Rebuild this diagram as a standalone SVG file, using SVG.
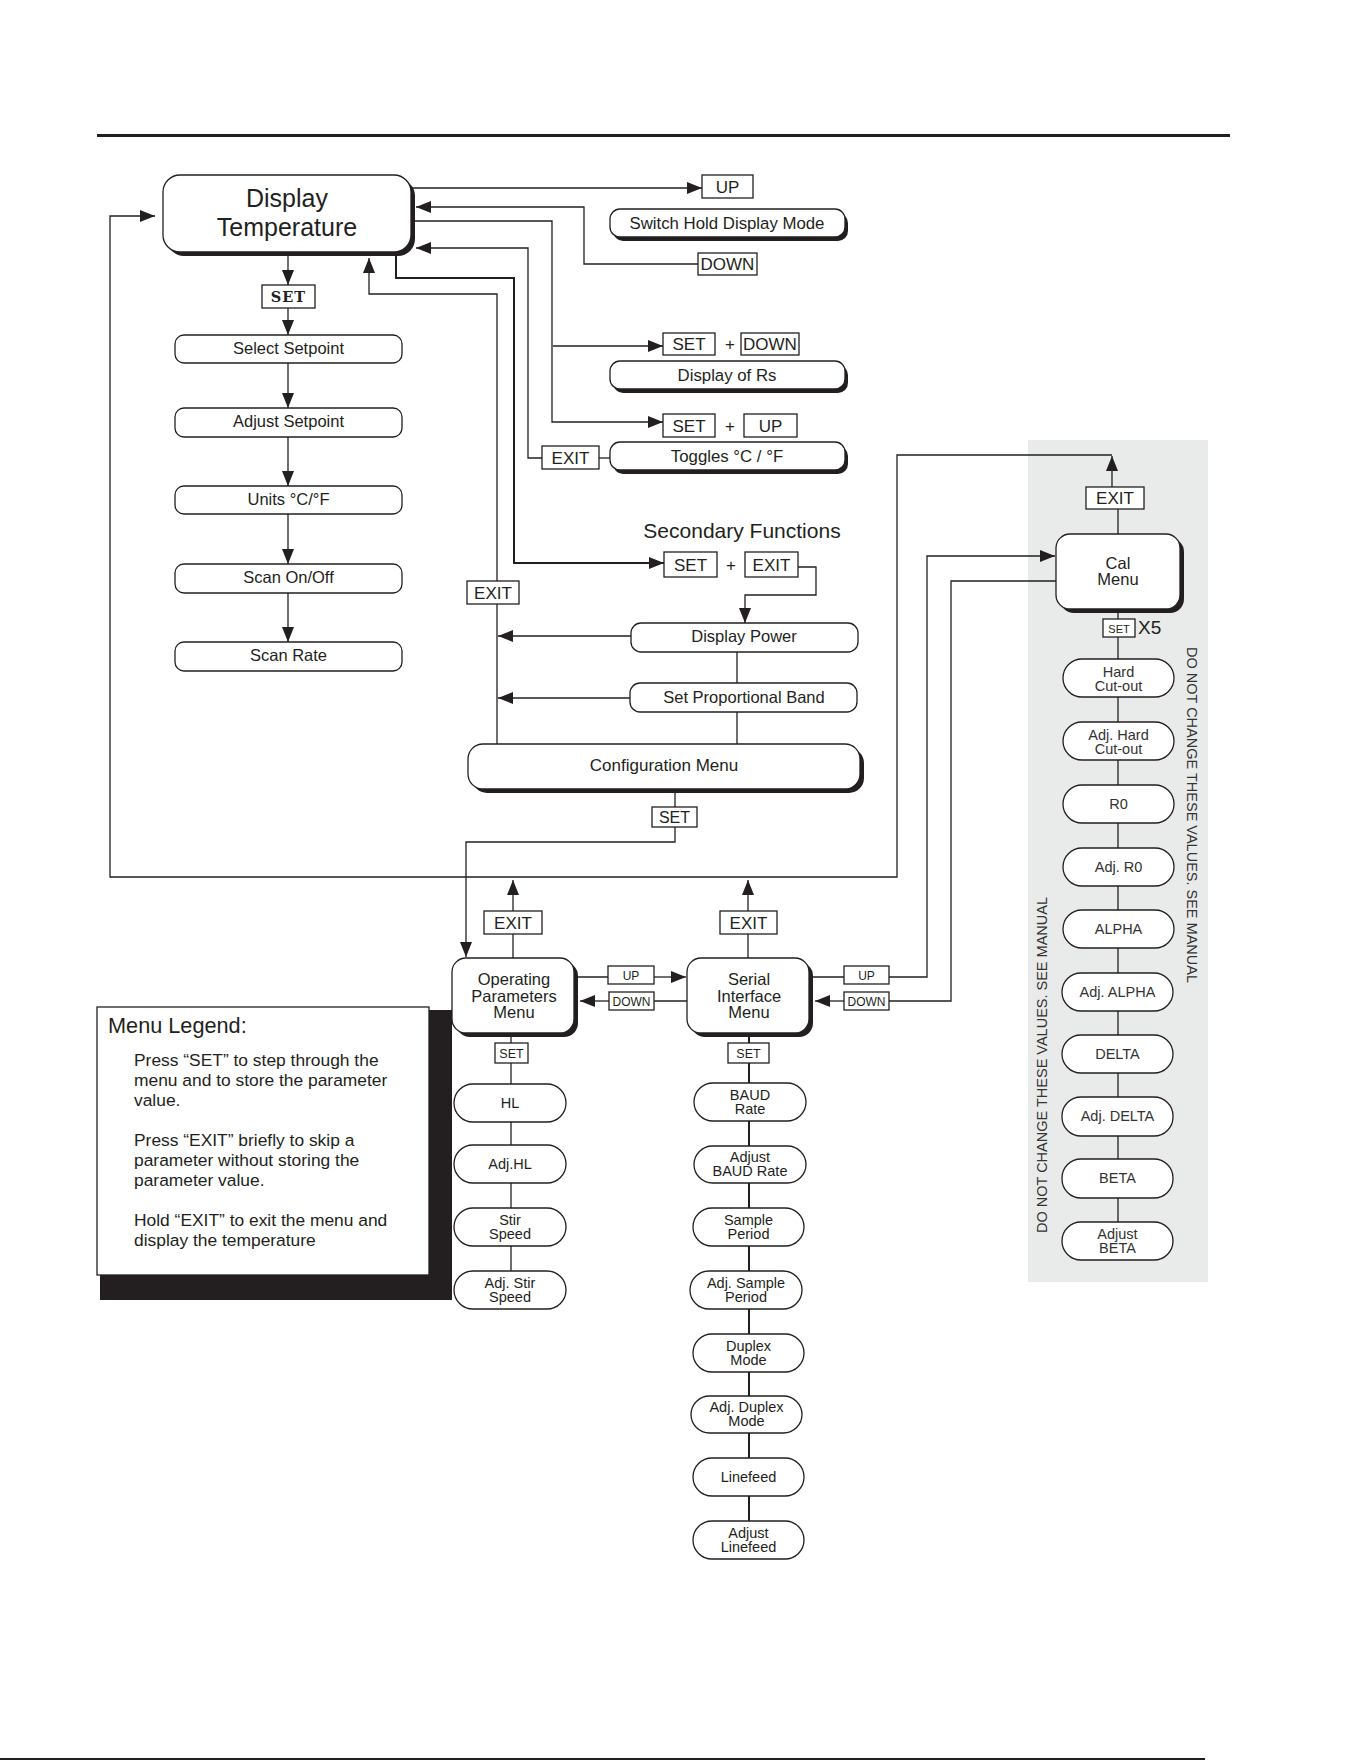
<svg xmlns="http://www.w3.org/2000/svg" width="1361" height="1761" viewBox="0 0 1361 1761">
<defs>
<style>
.ln{fill:none;stroke:#231f20;stroke-width:1.3}
.lt{fill:none;stroke:#231f20;stroke-width:2}
.bx{fill:#fff;stroke:#231f20;stroke-width:1.3}
.sh{fill:#231f20}
.t{font-family:"Liberation Sans",Arial,sans-serif;fill:#231f20;text-anchor:middle}
.s{font-size:16.5px}
.k{font-size:17px}
.p{font-size:14.5px}
.m{font-size:12px}
.g{fill:#333}
</style>
<marker id="ar" viewBox="0 0 15 12" refX="15" refY="6" markerWidth="15" markerHeight="12" markerUnits="userSpaceOnUse" orient="auto"><path d="M0,0L15,6L0,12z" fill="#231f20"/></marker>
</defs>
<rect width="1361" height="1761" fill="#fff"/>
<rect x="97" y="134" width="1133" height="3" fill="#231f20"/>
<rect x="0" y="1758" width="1205" height="2" fill="#231f20"/>
<rect id="cal-panel" x="1028" y="440" width="180" height="842" fill="#e9eaea"/>

<g id="connectors">
<path class="ln" d="M411,188H702" marker-end="url(#ar)"/>
<path class="ln" d="M698,264H584V207H416" marker-end="url(#ar)"/>
<path class="ln" d="M411,221H552V422H663" marker-end="url(#ar)"/>
<path class="ln" d="M553,346H663" marker-end="url(#ar)"/>
<path class="ln" d="M599,458H610"/>
<path class="ln" d="M542,458H528V248H416" marker-end="url(#ar)"/>
<path class="lt" d="M396,252V278H514V563H664" marker-end="url(#ar)"/>
<path class="ln" d="M497,744V604"/>
<path class="ln" d="M497,581V294H369V258" marker-end="url(#ar)"/>
<path class="ln" d="M798,567H816V595H745V623" marker-end="url(#ar)"/>
<path class="ln" d="M631,636H498" marker-end="url(#ar)"/>
<path class="ln" d="M630,698H498" marker-end="url(#ar)"/>
<path class="ln" d="M737,652V683M737,712V744"/>
<path class="ln" d="M288,252V285" marker-end="url(#ar)"/>
<path class="ln" d="M288,308V335" marker-end="url(#ar)"/>
<path class="ln" d="M288,363V408" marker-end="url(#ar)"/>
<path class="ln" d="M288,437V486" marker-end="url(#ar)"/>
<path class="ln" d="M288,514V564" marker-end="url(#ar)"/>
<path class="ln" d="M288,593V642" marker-end="url(#ar)"/>
<path class="ln" d="M675,789V807"/>
<path class="ln" d="M675,827V842H466V957" marker-end="url(#ar)"/>
<path class="ln" d="M1112,487V456" marker-end="url(#ar)"/>
<path class="ln" d="M1112,455H897V877H110V216H155" marker-end="url(#ar)"/>
<path class="ln" d="M513,958V934"/>
<path class="ln" d="M513,911V880" marker-end="url(#ar)"/>
<path class="ln" d="M748,958V934"/>
<path class="ln" d="M748,911V880" marker-end="url(#ar)"/>
<path class="ln" d="M574,977H608"/>
<path class="ln" d="M654,977H686" marker-end="url(#ar)"/>
<path class="ln" d="M687,1001H654"/>
<path class="ln" d="M609,1001H580" marker-end="url(#ar)"/>
<path class="ln" d="M809,977H844"/>
<path class="ln" d="M889,977H927V556H1055" marker-end="url(#ar)"/>
<path class="ln" d="M1056,581H951V1001H889"/>
<path class="ln" d="M844,1001H815" marker-end="url(#ar)"/>
<path class="ln" d="M1118,534V509"/>
<path class="ln" d="M511,1037V1271"/>
<path class="lt" d="M749,1037V1521"/>
<path class="ln" d="M1118,609V1222"/>
</g>

<g id="display-temperature">
<rect class="sh" x="167" y="179" width="248" height="77" rx="17"/>
<rect class="bx" x="163" y="175" width="248" height="77" rx="17"/>
<text class="t" x="287" y="207" font-size="25">Display</text>
<text class="t" x="287" y="236" font-size="25">Temperature</text>
</g>
<g id="set-main">
<rect class="bx" x="262" y="285" width="53" height="23"/>
<text x="288.5" y="302" font-family="'DejaVu Serif','Liberation Serif',serif" font-weight="bold" font-size="14.5" fill="#231f20" text-anchor="middle" letter-spacing="1">SET</text>
</g>
<g id="select-setpoint"><rect class="bx" x="175" y="335" width="227" height="28" rx="9"/><text class="t s" x="288.5" y="354">Select Setpoint</text></g>
<g id="adjust-setpoint"><rect class="bx" x="175" y="408" width="227" height="29" rx="9"/><text class="t s" x="288.5" y="427">Adjust Setpoint</text></g>
<g id="units"><rect class="bx" x="175" y="486" width="227" height="28" rx="9"/><text class="t s" x="288.5" y="505">Units °C/°F</text></g>
<g id="scan-onoff"><rect class="bx" x="175" y="564" width="227" height="29" rx="9"/><text class="t s" x="288.5" y="583">Scan On/Off</text></g>
<g id="scan-rate"><rect class="bx" x="175" y="642" width="227" height="29" rx="9"/><text class="t s" x="288.5" y="661">Scan Rate</text></g>

<g id="up-key"><rect class="bx" x="702" y="175" width="51" height="23"/><text class="t k" x="727.5" y="193">UP</text></g>
<g id="switch-hold"><rect class="sh" x="613" y="213" width="235" height="28" rx="10"/><rect class="bx" x="610" y="209" width="235" height="28" rx="10"/><text class="t" x="727" y="229" font-size="16.8">Switch Hold Display Mode</text></g>
<g id="down-key"><rect class="bx" x="698" y="253" width="59" height="22"/><text class="t k" x="727.5" y="270">DOWN</text></g>

<g id="set-down">
<rect class="bx" x="663" y="333" width="52" height="22"/><text class="t k" x="689" y="350">SET</text>
<text class="t k" x="730" y="350">+</text>
<rect class="bx" x="741" y="333" width="58" height="22"/><text class="t k" x="770" y="350">DOWN</text>
</g>
<g id="display-rs"><rect class="sh" x="613" y="365" width="235" height="28" rx="10"/><rect class="bx" x="610" y="361" width="235" height="28" rx="10"/><text class="t" x="727" y="381" font-size="16.8">Display of Rs</text></g>
<g id="set-up">
<rect class="bx" x="663" y="414" width="52" height="23"/><text class="t k" x="689" y="432">SET</text>
<text class="t k" x="730" y="432">+</text>
<rect class="bx" x="744" y="414" width="53" height="23"/><text class="t k" x="770.5" y="432">UP</text>
</g>
<g id="exit-toggle"><rect class="bx" x="542" y="446" width="57" height="23"/><text class="t k" x="570.5" y="464">EXIT</text></g>
<g id="toggles"><rect class="sh" x="613" y="446" width="235" height="28" rx="10"/><rect class="bx" x="610" y="442" width="235" height="28" rx="10"/><text class="t" x="727" y="462" font-size="16.8">Toggles °C / °F</text></g>

<g id="secondary-functions">
<text class="t" x="742" y="538" font-size="21">Secondary Functions</text>
<rect class="bx" x="664" y="552" width="53" height="25"/><text class="t k" x="690.5" y="571">SET</text>
<text class="t k" x="731" y="571">+</text>
<rect class="bx" x="745" y="552" width="53" height="25"/><text class="t k" x="771.5" y="571">EXIT</text>
</g>
<g id="exit-config"><rect class="bx" x="467" y="581" width="52" height="23"/><text class="t k" x="493" y="599">EXIT</text></g>
<g id="display-power"><rect class="bx" x="631" y="623" width="227" height="29" rx="10"/><text class="t s" x="744" y="642">Display Power</text></g>
<g id="set-prop-band"><rect class="bx" x="630" y="683" width="227" height="29" rx="10"/><text class="t s" x="744" y="703">Set Proportional Band</text></g>
<g id="config-menu"><rect class="sh" x="472" y="748" width="392" height="45" rx="15"/><rect class="bx" x="468" y="744" width="392" height="45" rx="15"/><text class="t k" x="664" y="771">Configuration Menu</text></g>
<g id="set-config"><rect class="bx" x="652" y="807" width="45" height="20"/><text class="t" x="674.5" y="823" font-size="16">SET</text></g>

<g id="exit-op"><rect class="bx" x="484" y="911" width="58" height="23"/><text class="t k" x="513" y="929">EXIT</text></g>
<g id="exit-si"><rect class="bx" x="720" y="911" width="57" height="23"/><text class="t k" x="748.5" y="929">EXIT</text></g>

<g id="legend">
<rect class="sh" x="100" y="1010" width="352" height="290"/>
<rect x="97" y="1007" width="332" height="268" fill="#fff" stroke="#231f20" stroke-width="1.3"/>
<text x="108" y="1033" font-family="'Liberation Sans',Arial,sans-serif" font-size="21.7" fill="#231f20">Menu Legend:</text>
<g font-family="'Liberation Sans',Arial,sans-serif" font-size="17.4" fill="#231f20">
<text x="134" y="1066">Press “SET” to step through the</text>
<text x="134" y="1086">menu and to store the parameter</text>
<text x="134" y="1106">value.</text>
<text x="134" y="1146">Press “EXIT” briefly to skip a</text>
<text x="134" y="1166">parameter without storing the</text>
<text x="134" y="1186">parameter value.</text>
<text x="134" y="1226">Hold “EXIT” to exit the menu and</text>
<text x="134" y="1246">display the temperature</text>
</g>
</g>

<g id="op-menu"><rect class="sh" x="456" y="962" width="122" height="75" rx="14"/><rect class="bx" x="452" y="958" width="122" height="75" rx="14"/>
<text class="t s" x="514" y="985">Operating</text><text class="t s" x="514" y="1002">Parameters</text><text class="t s" x="514" y="1018">Menu</text></g>
<g id="si-menu"><rect class="sh" x="691" y="962" width="122" height="75" rx="14"/><rect class="bx" x="687" y="958" width="122" height="75" rx="14"/>
<text class="t s" x="749" y="985">Serial</text><text class="t s" x="749" y="1002">Interface</text><text class="t s" x="749" y="1018">Menu</text></g>
<g id="up-op-si"><rect class="bx" x="608" y="966" width="46" height="18"/><text class="t m" x="631" y="980">UP</text></g>
<g id="down-si-op"><rect class="bx" x="609" y="992" width="45" height="18"/><text class="t m" x="631.5" y="1006">DOWN</text></g>
<g id="up-si-cal"><rect class="bx" x="844" y="966" width="45" height="18"/><text class="t m" x="866.5" y="980">UP</text></g>
<g id="down-cal-si"><rect class="bx" x="844" y="992" width="45" height="18"/><text class="t m" x="866.5" y="1006">DOWN</text></g>
<g id="set-op"><rect class="bx" x="495" y="1043" width="33" height="20"/><text class="t" x="511.5" y="1058" font-size="12.5">SET</text></g>
<g id="set-si"><rect class="bx" x="728" y="1043" width="41" height="20"/><text class="t" x="748.5" y="1058" font-size="12.5">SET</text></g>

<g id="hl"><rect class="bx" x="454" y="1084" width="112" height="38" rx="19"/><text class="t p" x="510" y="1108">HL</text></g>
<g id="adj-hl"><rect class="bx" x="454" y="1145" width="112" height="38" rx="19"/><text class="t p" x="510" y="1169">Adj.HL</text></g>
<g id="stir-speed"><rect class="bx" x="454" y="1208" width="112" height="38" rx="19"/><text class="t p" x="510" y="1225">Stir</text><text class="t p" x="510" y="1239">Speed</text></g>
<g id="adj-stir-speed"><rect class="bx" x="454" y="1271" width="112" height="38" rx="19"/><text class="t p" x="510" y="1288">Adj. Stir</text><text class="t p" x="510" y="1302">Speed</text></g>

<g id="baud-rate"><rect class="bx" x="694" y="1083" width="112" height="38" rx="19"/><text class="t p" x="750" y="1100">BAUD</text><text class="t p" x="750" y="1114">Rate</text></g>
<g id="adj-baud"><rect class="bx" x="694" y="1146" width="112" height="37" rx="18.5"/><text class="t p" x="750" y="1162">Adjust</text><text class="t p" x="750" y="1176">BAUD Rate</text></g>
<g id="sample-period"><rect class="bx" x="693" y="1208" width="111" height="38" rx="19"/><text class="t p" x="748.5" y="1225">Sample</text><text class="t p" x="748.5" y="1239">Period</text></g>
<g id="adj-sample"><rect class="bx" x="690" y="1271" width="112" height="38" rx="19"/><text class="t p" x="746" y="1288">Adj. Sample</text><text class="t p" x="746" y="1302">Period</text></g>
<g id="duplex"><rect class="bx" x="693" y="1334" width="111" height="38" rx="19"/><text class="t p" x="748.5" y="1351">Duplex</text><text class="t p" x="748.5" y="1365">Mode</text></g>
<g id="adj-duplex"><rect class="bx" x="691" y="1396" width="111" height="37" rx="18.5"/><text class="t p" x="746.5" y="1412">Adj. Duplex</text><text class="t p" x="746.5" y="1426">Mode</text></g>
<g id="linefeed"><rect class="bx" x="693" y="1458" width="111" height="38" rx="19"/><text class="t p" x="748.5" y="1482">Linefeed</text></g>
<g id="adj-linefeed"><rect class="bx" x="693" y="1521" width="111" height="38" rx="19"/><text class="t p" x="748.5" y="1538">Adjust</text><text class="t p" x="748.5" y="1552">Linefeed</text></g>

<g id="exit-cal"><rect class="bx" x="1086" y="487" width="58" height="22"/><text class="t k" x="1115" y="504">EXIT</text></g>
<g id="cal-menu"><rect class="sh" x="1060" y="538" width="124" height="75" rx="14"/><rect class="bx" x="1056" y="534" width="124" height="75" rx="14"/>
<text class="t s" x="1118" y="569">Cal</text><text class="t s" x="1118" y="585">Menu</text></g>
<g id="set-cal"><rect class="bx" x="1103" y="619" width="32" height="18"/><text class="t" x="1119" y="633" font-size="11">SET</text>
<text x="1138" y="634" font-family="'Liberation Sans',Arial,sans-serif" font-size="19" fill="#231f20">X5</text></g>

<g id="hard-cutout"><rect class="bx" x="1063" y="659" width="111" height="38" rx="19"/><text class="t p g" x="1118.5" y="677">Hard</text><text class="t p g" x="1118.5" y="691">Cut-out</text></g>
<g id="adj-hard-cutout"><rect class="bx" x="1063" y="722" width="111" height="38" rx="19"/><text class="t p g" x="1118.5" y="740">Adj. Hard</text><text class="t p g" x="1118.5" y="754">Cut-out</text></g>
<g id="r0"><rect class="bx" x="1063" y="785" width="111" height="38" rx="19"/><text class="t p g" x="1118.5" y="809">R0</text></g>
<g id="adj-r0"><rect class="bx" x="1063" y="848" width="111" height="38" rx="19"/><text class="t p g" x="1118.5" y="872">Adj. R0</text></g>
<g id="alpha"><rect class="bx" x="1063" y="910" width="111" height="38" rx="19"/><text class="t p g" x="1118.5" y="934">ALPHA</text></g>
<g id="adj-alpha"><rect class="bx" x="1062" y="973" width="111" height="38" rx="19"/><text class="t p g" x="1117.5" y="997">Adj. ALPHA</text></g>
<g id="delta"><rect class="bx" x="1062" y="1035" width="111" height="38" rx="19"/><text class="t p g" x="1117.5" y="1059">DELTA</text></g>
<g id="adj-delta"><rect class="bx" x="1062" y="1097" width="111" height="39" rx="19"/><text class="t p g" x="1117.5" y="1121">Adj. DELTA</text></g>
<g id="beta"><rect class="bx" x="1062" y="1159" width="111" height="39" rx="19"/><text class="t p g" x="1117.5" y="1183">BETA</text></g>
<g id="adjust-beta"><rect class="bx" x="1062" y="1222" width="111" height="38" rx="19"/><text class="t p g" x="1117.5" y="1239">Adjust</text><text class="t p g" x="1117.5" y="1253">BETA</text></g>

<text transform="translate(1047,1233) rotate(-90)" font-family="'Liberation Sans',Arial,sans-serif" font-size="14.5" fill="#333">DO NOT CHANGE THESE VALUES. SEE MANUAL</text>
<text transform="translate(1187,647) rotate(90)" font-family="'Liberation Sans',Arial,sans-serif" font-size="14.5" fill="#333">DO NOT CHANGE THESE VALUES. SEE MANUAL</text>
</svg>
